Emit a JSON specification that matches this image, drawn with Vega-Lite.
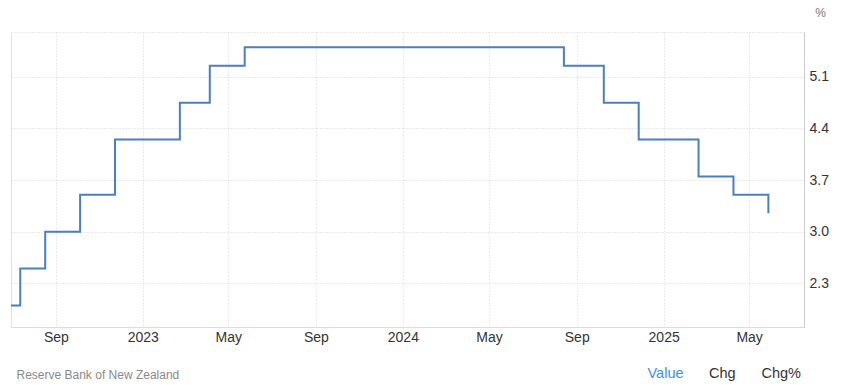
{
  "$schema": "https://vega.github.io/schema/vega-lite/v6.json",
  "width": 793,
  "height": 295,
  "autosize": {"type": "none"},
  "padding": {"left": 11, "top": 32, "right": 37, "bottom": 63},
  "background": "white",
  "config": {"view": {"stroke": null}, "font": "Liberation Sans"},
  "datasets": {
    "ocr": [
      {"date": "2022-06-30T00:00:00", "rate": 2.0},
      {"date": "2022-07-13T00:00:00", "rate": 2.5},
      {"date": "2022-08-17T00:00:00", "rate": 3.0},
      {"date": "2022-10-05T00:00:00", "rate": 3.5},
      {"date": "2022-11-23T00:00:00", "rate": 4.25},
      {"date": "2023-02-22T00:00:00", "rate": 4.75},
      {"date": "2023-04-05T00:00:00", "rate": 5.25},
      {"date": "2023-05-24T00:00:00", "rate": 5.5},
      {"date": "2024-08-14T00:00:00", "rate": 5.25},
      {"date": "2024-10-09T00:00:00", "rate": 4.75},
      {"date": "2024-11-27T00:00:00", "rate": 4.25},
      {"date": "2025-02-19T00:00:00", "rate": 3.75},
      {"date": "2025-04-09T00:00:00", "rate": 3.5},
      {"date": "2025-05-28T00:00:00", "rate": 3.25}
    ],
    "tabs": [
      {"tab": "Value"},
      {"tab": "Chg"},
      {"tab": "Chg%"}
    ]
  },
  "layer": [
    {
      "data": {"name": "ocr"},
      "mark": {"type": "line", "interpolate": "step-after", "color": "#4b7fbf", "strokeWidth": 2},
      "encoding": {
        "x": {
          "field": "date",
          "type": "temporal",
          "scale": {"domain": [{"year": 2022, "month": 6, "date": 30}, {"year": 2025, "month": 7, "date": 17}]},
          "axis": {
            "values": [
              {"year": 2022, "month": 9, "date": 1},
              {"year": 2023, "month": 1, "date": 1},
              {"year": 2023, "month": 5, "date": 1},
              {"year": 2023, "month": 9, "date": 1},
              {"year": 2024, "month": 1, "date": 1},
              {"year": 2024, "month": 5, "date": 1},
              {"year": 2024, "month": 9, "date": 1},
              {"year": 2025, "month": 1, "date": 1},
              {"year": 2025, "month": 5, "date": 1}
            ],
            "labelExpr": "month(datum.value) == 0 ? timeFormat(datum.value, '%Y') : timeFormat(datum.value, '%b')",
            "ticks": false,
            "labelPadding": 3,
            "labelFontSize": 14,
            "labelColor": "#333333",
            "labelFont": "Liberation Sans",
            "domainColor": "#dddddd",
            "grid": true,
            "gridDash": [1, 2],
            "gridColor": "#d6d6d6",
            "title": "Reserve Bank of New Zealand",
            "titleFont": "Liberation Sans",
            "titleFontSize": 12,
            "titleFontWeight": "normal",
            "titleColor": "#888888",
            "titleAlign": "left",
            "titleBaseline": "middle",
            "titleX": 5,
            "titleY": 47
          }
        },
        "y": {
          "field": "rate",
          "type": "quantitative",
          "scale": {"domain": [1.708, 5.708], "nice": false, "zero": false},
          "axis": {
            "orient": "right",
            "values": [2.3, 3.0, 3.7, 4.4, 5.1, 5.708],
            "labelExpr": "datum.value > 5.5 ? '' : format(datum.value, '.1f')",
            "ticks": false,
            "labelPadding": 5,
            "labelFontSize": 14,
            "labelColor": "#333333",
            "labelFont": "Liberation Sans",
            "domainColor": "#cccccc",
            "grid": true,
            "gridDash": [1, 2],
            "gridColor": "#d6d6d6",
            "title": "%",
            "titleAngle": 0,
            "titleFont": "Liberation Sans",
            "titleFontSize": 12,
            "titleFontWeight": "normal",
            "titleColor": "#777777",
            "titleAlign": "center",
            "titleBaseline": "middle",
            "titleX": 16,
            "titleY": -20
          }
        }
      }
    },
    {
      "data": {"name": "ocr"},
      "mark": {"type": "line", "interpolate": "step-after", "strokeOpacity": 0},
      "encoding": {
        "x": {"field": "date", "type": "temporal"},
        "y": {
          "field": "rate",
          "type": "quantitative",
          "axis": {"orient": "left", "labels": false, "ticks": false, "grid": false, "domainColor": "#e0e0e0", "title": null}
        }
      }
    },
    {
      "data": {"name": "tabs"},
      "mark": {"type": "point", "opacity": 0},
      "encoding": {
        "color": {
          "field": "tab",
          "type": "nominal",
          "scale": {"domain": ["Value", "Chg", "Chg%"], "range": ["#3d8fe6", "#333333", "#333333"]},
          "legend": {
            "orient": "none",
            "legendX": 622,
            "legendY": 335,
            "direction": "horizontal",
            "title": null,
            "symbolSize": 0,
            "symbolStrokeWidth": 0,
            "symbolOpacity": 0,
            "labelOffset": 0,
            "columnPadding": 10.5,
            "labelFontSize": 14.5,
            "labelFont": "Liberation Sans",
            "labelColor": {"expr": "datum.label === 'Value' ? '#3d8fe6' : '#333333'"}
          }
        }
      }
    }
  ],
  "resolve": {"axis": {"y": "independent"}}
}
